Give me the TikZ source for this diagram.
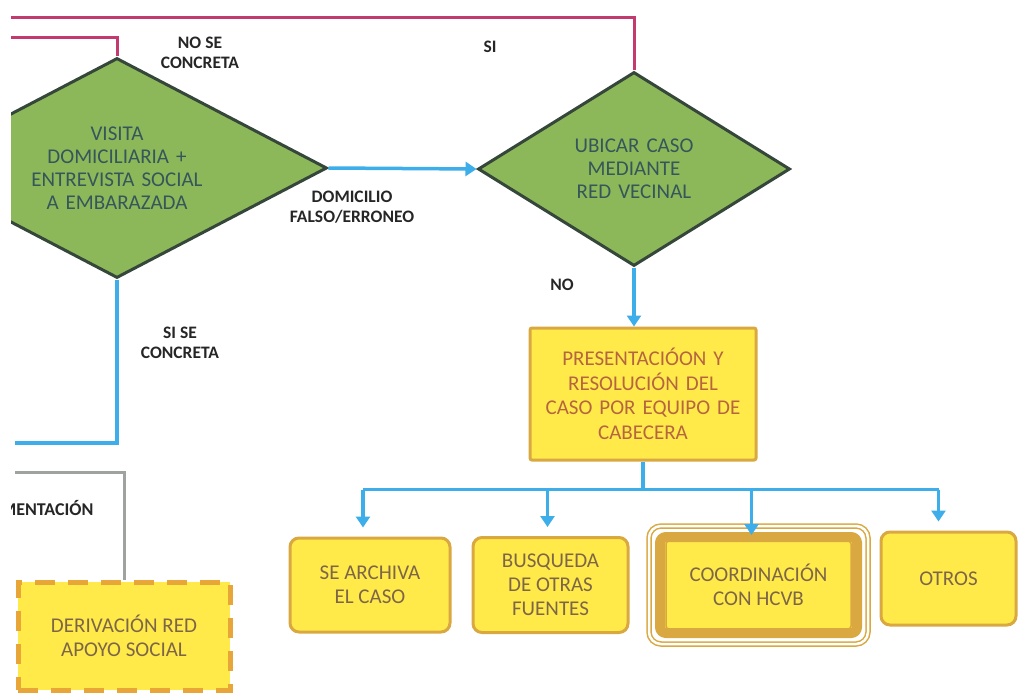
\documentclass[tikz,border=0pt]{standalone}
\usepackage{fontspec}
\setmainfont{Carlito}
\usetikzlibrary{arrows.meta, positioning, shapes.geometric, fit}

\definecolor{flowblue}{HTML}{3DAEE9}
\definecolor{flowpink}{HTML}{C23A6E}
\definecolor{decgreen}{HTML}{8DB85A}
\definecolor{decedge}{HTML}{35463A}
\definecolor{dectext}{HTML}{35565A}
\definecolor{boxyellow}{HTML}{FFEA4A}
\definecolor{boxgold}{HTML}{D9A840}
\definecolor{dashorange}{HTML}{E8A538}
\definecolor{boxtext}{HTML}{7D6648}
\definecolor{prestext}{HTML}{B5653F}
\definecolor{linegray}{HTML}{9EA3A0}

\begin{document}
\begin{tikzpicture}[x=1pt, y=-1pt, node distance=20pt,
    decision/.style={diamond, aspect=2, draw=decedge, line width=3pt, fill=decgreen,
        text=dectext, align=center, inner sep=0pt, font=\fontsize{21}{23}\selectfont},
    taskbox/.style={rectangle, rounded corners=9pt, draw=boxgold, line width=3pt,
        fill=boxyellow, text=boxtext, align=center, inner sep=2pt,
        font=\fontsize{21}{24}\selectfont},
    flowlabel/.style={font=\bfseries\fontsize{17.5}{20}\selectfont, align=center, text=black!85},
    blueline/.style={flowblue, line width=3.5pt},
    bluearrow/.style={blueline, -{Triangle[width=14pt,length=11pt]}},
    pinkline/.style={flowpink, line width=3pt},
    grayline/.style={linegray, line width=3pt}]

    \fill[white] (0,0) rectangle (1021,693);
    \useasboundingbox (0,0) rectangle (1021,693);
    \clip (11,0) rectangle (1021,693);

    % decisions
    \node[decision, minimum width=420pt, minimum height=220pt, text width=200pt] (Visita) at (117,168)
        {VISITA\\DOMICILIARIA +\\ENTREVISTA SOCIAL\\A EMBARAZADA};
    \node[decision, minimum width=312pt, minimum height=194pt, text width=130pt] (Ubicar) at (634,169)
        {UBICAR CASO\\MEDIANTE\\RED VECINAL};

    % boxes
    \node[taskbox, rounded corners=2pt, text=prestext, minimum width=226pt, minimum height=132pt,
        text width=215pt, font=\fontsize{21}{24.5}\selectfont] (Presentacion) at (643,394)
        {PRESENTACIÓON Y\\RESOLUCIÓN DEL\\CASO POR EQUIPO DE\\CABECERA};
    \node[taskbox, minimum width=160pt, minimum height=94pt] (Archiva) at (370,585) {SE ARCHIVA\\EL CASO};
    \node[taskbox, minimum width=155pt, minimum height=95pt, right=20pt of Archiva] (Busqueda)
        {BUSQUEDA\\DE OTRAS\\FUENTES};
    \node[taskbox, line width=10pt, rounded corners=6pt, minimum width=197pt, minimum height=96pt,
        right=25.5pt of Busqueda] (Coordinacion) {COORDINACIÓN\\CON HCVB};
    \node[fit=(Coordinacion), inner sep=6pt, rounded corners=12pt, draw=boxgold, line width=1.5pt,
        double=white, double distance=2.5pt] (Coordinacion ring) {};
    \draw[boxgold, line width=1.5pt, rounded corners=3pt]
        ([xshift=11pt, yshift=-9pt]Coordinacion.north west) rectangle ([xshift=-11pt, yshift=9pt]Coordinacion.south east);
    \node[taskbox, minimum width=135pt, minimum height=93pt, right=17.5pt of Coordinacion, yshift=6.5pt] (Otros) {OTROS};
    \node[taskbox, rounded corners=0pt, draw=dashorange, line width=5pt, dash pattern=on 20pt off 13pt,
        minimum width=212pt, minimum height=108pt] (Derivacion) at (124,636) {DERIVACIÓN RED\\APOYO SOCIAL};

    % labels
    \node[flowlabel] (No se concreta) at (200,53) {NO SE\\CONCRETA};
    \node[flowlabel] (Si top) at (490,47) {SI};
    \node[flowlabel] (Domicilio falso) at (352,207) {DOMICILIO\\FALSO/ERRONEO};
    \node[flowlabel] (No bottom) at (562,285) {NO};
    \node[flowlabel] (Si se concreta) at (180,343) {SI SE\\CONCRETA};
    \node[flowlabel, anchor=east, font=\bfseries\fontsize{18}{20}\selectfont] (Mentacion) at (97,508) {MENTACIÓN};

    % connectors
    \coordinate (Pink top end) at (0,18);
    \coordinate (Pink low end) at (0,38);
    \coordinate (Blue left end) at (15,443);
    \coordinate (Gray left end) at (15,472);
    \draw[pinkline] (Ubicar.north) |- (Pink top end);
    \draw[pinkline] (Visita.north) |- (Pink low end);
    \draw[bluearrow] (Visita.east) -- (Ubicar.west);
    \draw[bluearrow] (Ubicar.south) -- (Ubicar.south |- Presentacion.north);
    \draw[blueline] (Visita.south) |- (Blue left end);
    \draw[grayline] (Derivacion.north) |- (Gray left end);
    \draw[blueline] (Presentacion.south) -- ++(0,28) coordinate (Branch);
    \draw[blueline] ([xshift=-7pt]Archiva.north |- Branch) -- ([xshift=-10pt]Otros.north |- Branch);
    \foreach \target/\dx in {Archiva/-7, Busqueda/-3, Otros/-10}
        \draw[bluearrow, shorten >=9pt] ([xshift=\dx pt]\target.north |- Branch) -- ([xshift=\dx pt]\target.north);
    \draw[bluearrow] ([xshift=-7pt]Coordinacion.north |- Branch) -- ([xshift=-7pt, yshift=-3pt]Coordinacion.north);
\end{tikzpicture}
\end{document}
